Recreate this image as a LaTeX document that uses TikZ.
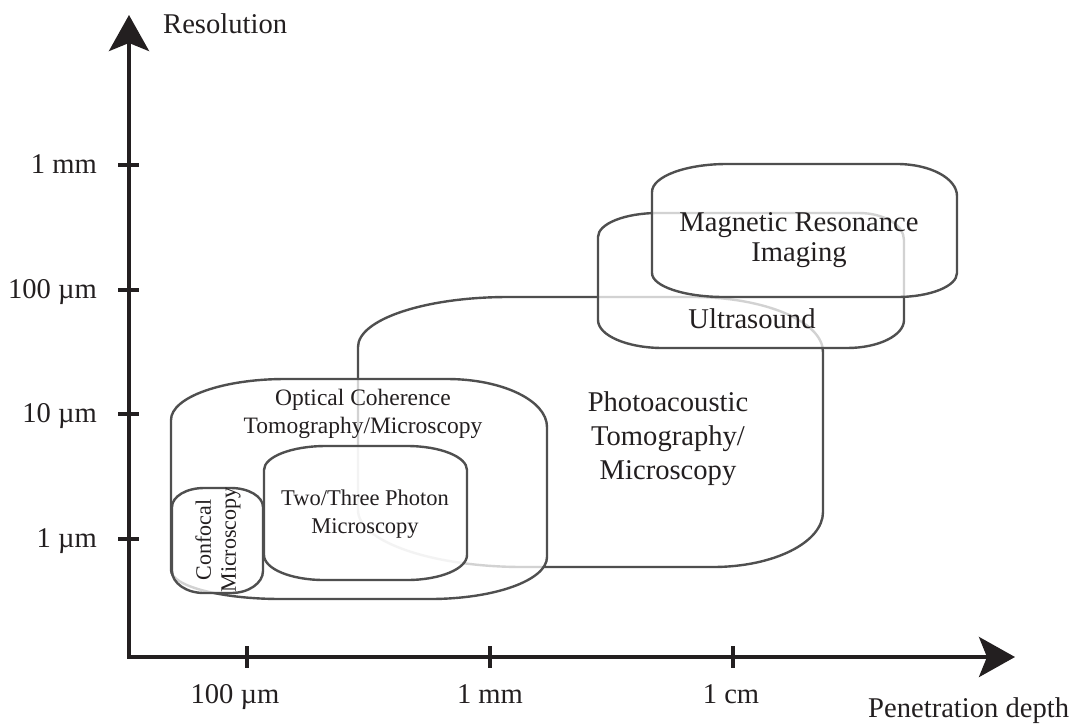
\documentclass[tikz,border=0pt]{standalone}
\usepackage{fontspec}
\setmainfont{Liberation Serif}
\usetikzlibrary{arrows.meta}
\definecolor{ink}{HTML}{231F20}
\definecolor{edgegray}{HTML}{4F4F4F}
\tikzset{
  axisline/.style={draw=ink, line width=4pt, line join=miter},
  tipstyle/.tip={Stealth[length=36pt,width=40pt,inset=8pt]},
  tickmark/.style={draw=ink, line width=3.5pt},
  region/.style={draw=edgegray, line width=2.4pt, fill=white, fill opacity=0.75},
  lbl/.style={text=ink, inner sep=0pt, align=center, anchor=base, font=\fontsize{28.6}{34}\selectfont},
  mrilbl/.style={lbl, font=\fontsize{28.6}{30}\selectfont},
  smalllbl/.style={lbl, font=\fontsize{23.5}{28}\selectfont},
  photonlbl/.style={lbl, font=\fontsize{22.5}{28}\selectfont},
  confocallbl/.style={text=ink, inner sep=0pt, align=center, anchor=center, rotate=90, font=\fontsize{22}{25}\selectfont},
  ylbl/.style={text=ink, inner sep=0pt, anchor=base east, font=\fontsize{28.6}{34}\selectfont},
}
\begin{document}
\begin{tikzpicture}[x=1pt,y=1pt]
\useasboundingbox (0,0) rectangle (1076,-724);

% regions (bottom to top)
\draw[region] (358,-347) arc[start angle=180,end angle=90,x radius=150,y radius=50]
  -- (693,-297) arc[start angle=90,end angle=0,x radius=130,y radius=55]
  -- (823,-512) arc[start angle=0,end angle=-90,x radius=110,y radius=55]
  -- (523,-567) arc[start angle=270,end angle=180,x radius=165,y radius=57] -- cycle;
\draw[region] (598,-237) arc[start angle=180,end angle=90,x radius=60,y radius=24]
  -- (859,-213) arc[start angle=90,end angle=0,x radius=45,y radius=27]
  -- (904,-320) arc[start angle=0,end angle=-90,x radius=57,y radius=28]
  -- (663,-348) arc[start angle=270,end angle=180,x radius=65,y radius=28] -- cycle;
\draw[region] (652,-192) arc[start angle=180,end angle=90,x radius=75,y radius=28]
  -- (897,-164) arc[start angle=90,end angle=0,x radius=60,y radius=32]
  -- (957,-273) arc[start angle=0,end angle=-90,x radius=60,y radius=24]
  -- (724,-297) arc[start angle=270,end angle=180,x radius=72,y radius=24] -- cycle;
\draw[region] (171,-420) arc[start angle=180,end angle=90,x radius=114,y radius=41]
  -- (447,-379) arc[start angle=90,end angle=0,x radius=100,y radius=48]
  -- (547,-557) arc[start angle=0,end angle=-90,x radius=117,y radius=42]
  -- (281,-599) arc[start angle=270,end angle=180,x radius=110,y radius=29] -- cycle;
\draw[region] (264,-470) arc[start angle=180,end angle=90,x radius=62,y radius=24]
  -- (407,-446) arc[start angle=90,end angle=0,x radius=60,y radius=24]
  -- (467,-555) arc[start angle=0,end angle=-90,x radius=60,y radius=25]
  -- (324,-580) arc[start angle=270,end angle=180,x radius=60,y radius=25] -- cycle;
\draw[region] (172,-507) arc[start angle=180,end angle=90,x radius=32,y radius=19]
  -- (231,-488) arc[start angle=90,end angle=0,x radius=32,y radius=19]
  -- (263,-571) arc[start angle=0,end angle=-90,x radius=32,y radius=22]
  -- (204,-593) arc[start angle=270,end angle=180,x radius=32,y radius=22] -- cycle;

% region labels (anchor base = baseline of the last line)
\node[mrilbl] (mri) at (799,-261) {Magnetic Resonance\\Imaging};
\node[lbl] (us) at (752,-328) {Ultrasound};
\node[lbl] (pa) at (668,-479) {Photoacoustic\\Tomography/\\Microscopy};
\node[smalllbl] (oct) at (363,-433) {Optical Coherence\\Tomography/Microscopy};
\node[photonlbl] (tp) at (365,-533) {Two/Three Photon\\Microscopy};
\node[confocallbl] (cf) at (218,-540) {Confocal\\Microscopy};

% axes
\coordinate (ytip) at (129,-15);
\coordinate (origin) at (129,-657);
\coordinate (xtip) at (1015,-657);
\draw[axisline, {tipstyle}-{tipstyle}] (ytip) -- (origin) -- (xtip);

% y ticks
\foreach \y/\t/\n in {165/1 mm/ya, 290/100 µm/yb, 414/10 µm/yc, 539/1 µm/yd} {
  \coordinate (\n l) at (118,-\y);
  \coordinate (\n r) at (139,-\y);
  \draw[tickmark] (\n l) -- (\n r);
  \node[ylbl] (\n) at (97,-\y-8) {\t};
}
% x ticks
\foreach \x/\lx/\t/\n in {247/235/100 µm/xa, 490/490/1 mm/xb, 733/731/1 cm/xc} {
  \coordinate (\n t) at (\x,-646);
  \coordinate (\n b) at (\x,-668);
  \draw[tickmark] (\n t) -- (\n b);
  \node[lbl] (\n) at (\lx,-703) {\t};
}

\node[lbl, anchor=base west] (ylab) at (163,-33) {Resolution};
\node[lbl, anchor=base west] (xlab) at (868,-717) {Penetration depth};
\end{tikzpicture}
\end{document}
